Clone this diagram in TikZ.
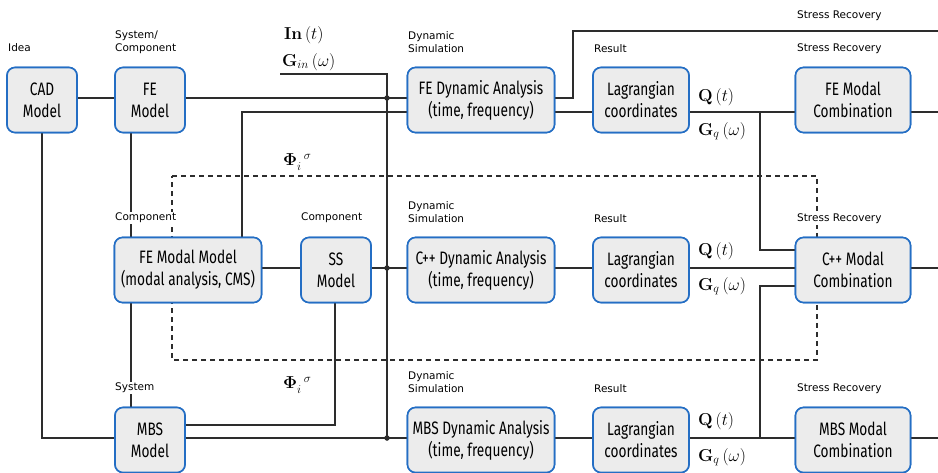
\documentclass[tikz,border=0pt]{standalone}
\usepackage[no-math]{fontspec}
\usetikzlibrary{calc}
\newfontfamily\boxfont[FakeStretch=0.76]{Fira Sans}
\newfontfamily\lblfont{DejaVu Sans}
\definecolor{boxblue}{RGB}{36,110,196}
\definecolor{boxgray}{RGB}{236,236,236}
\definecolor{linegray}{RGB}{45,45,45}
\begin{document}
\begin{tikzpicture}[x=1pt,y=-1pt,
  blk/.style={draw=boxblue, fill=boxgray, line width=1.6pt, rounded corners=8pt,
    align=center, inner sep=0pt, font={\boxfont\fontsize{18}{22}\selectfont}},
  sblk/.style={blk, minimum width=70pt, minimum height=65pt},
  wblk/.style={blk, minimum width=147pt, minimum height=65pt},
  lblk/.style={blk, minimum width=96pt, minimum height=65pt},
  cblk/.style={blk, minimum width=115pt, minimum height=65pt},
  lbl/.style={font={\lblfont\fontsize{10.5}{12.5}\selectfont}, align=left, inner sep=1pt},
  wlbl/.style={lbl, fill=white},
  mth/.style={font=\fontsize{16.5}{18}\selectfont, inner sep=0pt},
  conn/.style={draw=linegray, line width=1.2pt},
  dsh/.style={draw=linegray, line width=1.2pt, dash pattern=on 5pt off 4pt},
  jdot/.style={circle, fill=linegray, draw=linegray, inner sep=0pt, minimum size=5pt}
]
\useasboundingbox (0,0) rectangle (938,473);

% level coordinates
\coordinate (yA) at (0,98);
\coordinate (yB) at (0,112);
\coordinate (yT) at (0,31);
\coordinate (yG) at (0,74);
\coordinate (yM) at (0,268);
\coordinate (yMa) at (0,250);
\coordinate (yMb) at (0,286);
\coordinate (yL) at (0,438);
\coordinate (yLa) at (0,425);
\coordinate (xJ) at (387,0);
\coordinate (xV) at (760,0);
\coordinate (xR) at (573,0);
\coordinate (xE) at (938,0);
\coordinate (xF) at (242,0);
\coordinate (xD) at (131,0);
\coordinate (xC) at (42,0);
\coordinate (xS) at (335,0);
\coordinate (xG0) at (280,0);

% dashed frame
\coordinate (d1) at (172,176);
\coordinate (d2) at (817,176);
\coordinate (d3) at (817,360);
\coordinate (d4) at (172,360);
\draw[dsh] (d1) -- (d2) -- (d3) -- (d4) -- cycle;

% boxes (placed first so connectors can refer to them)
\node[sblk] (cad) at (42,100) {CAD\\Model};
\node[sblk] (fe) at (150,100) {FE\\Model};
\node[wblk] (fedyn) at (481,100) {FE Dynamic Analysis\\(time, frequency)};
\node[lblk] (lag1) at (641,100) {Lagrangian\\coordinates};
\node[cblk] (femc) at (853,100) {FE Modal\\Combination};

\node[wblk] (femm) at (188,270) {FE Modal Model\\(modal analysis, CMS)};
\node[sblk] (ss) at (336,270) {SS\\Model};
\node[wblk] (cdyn) at (481,270) {C++ Dynamic Analysis\\(time, frequency)};
\node[lblk] (lag2) at (641,270) {Lagrangian\\coordinates};
\node[cblk] (cmc) at (853,270) {C++ Modal\\Combination};

\node[sblk] (mbs) at (150,440) {MBS\\Model};
\node[wblk] (mdyn) at (481,440) {MBS Dynamic Analysis\\(time, frequency)};
\node[lblk] (lag3) at (641,440) {Lagrangian\\coordinates};
\node[cblk] (mmc) at (853,440) {MBS Modal\\Combination};

% connectors
\draw[conn] (cad.east |- yA) -- (fe.west |- yA);
\draw[conn] (fe.east |- yA) -- (fedyn.west |- yA);
\draw[conn] (xG0 |- yG) -- (xJ |- yG) -- (xJ |- yL);
\draw[conn] (fedyn.west |- yB) -- (xF |- yB) -- (xF |- femm.north);
\draw[conn] (xD |- fe.south) -- (xD |- femm.north);
\draw[conn] (xD |- femm.south) -- (xD |- mbs.north);
\draw[conn] (xC |- cad.south) -- (xC |- yL) -- (mbs.west |- yL);
\draw[conn] (femm.east |- yM) -- (ss.west |- yM);
\draw[conn] (ss.east |- yM) -- (cdyn.west |- yM);
\draw[conn] (xS |- ss.south) -- (xS |- yLa) -- (mbs.east |- yLa);
\draw[conn] (mbs.east |- yL) -- (mdyn.west |- yL);
\draw[conn] (fedyn.east |- yA) -- (xR |- yA) -- (xR |- yT) -- (xE |- yT);
\draw[conn] (fedyn.east |- yB) -- (lag1.west |- yB);
\draw[conn] (lag1.east |- yB) -- (femc.west |- yB);
\draw[conn] (xV |- yB) -- (xV |- yMa) -- (cmc.west |- yMa);
\draw[conn] (femc.east |- yB) -- (xE |- yB);
\draw[conn] (cdyn.east |- yM) -- (lag2.west |- yM);
\draw[conn] (lag2.east |- yM) -- (cmc.west |- yM);
\draw[conn] (cmc.west |- yMb) -- (xV |- yMb) -- (xV |- yL);
\draw[conn] (cmc.east |- yM) -- (xE |- yM);
\draw[conn] (mdyn.east |- yL) -- (lag3.west |- yL);
\draw[conn] (lag3.east |- yL) -- (mmc.west |- yL);
\draw[conn] (mmc.east |- yL) -- (xE |- yL);

% boxes drawn again on top of the connectors
\node[sblk] at (cad) {CAD\\Model};
\node[sblk] at (fe) {FE\\Model};
\node[wblk] at (fedyn) {FE Dynamic Analysis\\(time, frequency)};
\node[lblk] at (lag1) {Lagrangian\\coordinates};
\node[cblk] at (femc) {FE Modal\\Combination};
\node[wblk] at (femm) {FE Modal Model\\(modal analysis, CMS)};
\node[sblk] at (ss) {SS\\Model};
\node[wblk] at (cdyn) {C++ Dynamic Analysis\\(time, frequency)};
\node[lblk] at (lag2) {Lagrangian\\coordinates};
\node[cblk] at (cmc) {C++ Modal\\Combination};
\node[sblk] at (mbs) {MBS\\Model};
\node[wblk] at (mdyn) {MBS Dynamic Analysis\\(time, frequency)};
\node[lblk] at (lag3) {Lagrangian\\coordinates};
\node[cblk] at (mmc) {MBS Modal\\Combination};

% junction dots
\node[jdot] (j1) at (xJ |- yA) {};
\node[jdot] (j2) at (xJ |- yM) {};
\node[jdot] (j3) at (xJ |- yL) {};

% labels
\node[lbl, anchor=west] (l1) at (7,48) {Idea};
\node[lbl, anchor=west] (l2) at (114,42) {System/\\Component};
\node[lbl, anchor=west] (l3) at (407,42) {Dynamic\\Simulation};
\node[lbl, anchor=west] (l4) at (593,49) {Result};
\node[lbl, anchor=west] (l5) at (796,49) {Stress Recovery};
\node[lbl, anchor=west] (l6) at (796,16) {Stress Recovery};

\node[wlbl, anchor=west] (l7) at (114,218) {Component};
\node[lbl, anchor=west] (l8) at (300,218) {Component};
\node[lbl, anchor=west] (l9) at (407,212) {Dynamic\\Simulation};
\node[lbl, anchor=west] (l10) at (593,219) {Result};
\node[wlbl, anchor=west] (l11) at (796,219) {Stress Recovery};

\node[wlbl, anchor=west] (l12) at (114,388) {System};
\node[lbl, anchor=west] (l13) at (407,382) {Dynamic\\Simulation};
\node[lbl, anchor=west] (l14) at (593,389) {Result};
\node[lbl, anchor=west] (l15) at (796,389) {Stress Recovery};

% math labels
\node[mth, anchor=west] (m1) at (284,35) {$\mathbf{In}\,(t)$};
\node[mth, anchor=west] (m2) at (282,62) {$\mathbf{G}_{in}\,(\omega)$};
\node[mth, anchor=west] (m3) at (283,162) {$\mathbf{\Phi}_{i}^{\;\;\sigma}$};
\node[mth, anchor=west] (m4) at (283,385) {$\mathbf{\Phi}_{i}^{\;\;\sigma}$};
\node[mth, anchor=west] (q1) at (698,97) {$\mathbf{Q}\,(t)$};
\node[mth, anchor=west] (g1) at (698,131) {$\mathbf{G}_{q}\,(\omega)$};
\node[mth, anchor=west] (q2) at (698,251) {$\mathbf{Q}\,(t)$};
\node[mth, anchor=west] (g2) at (698,286) {$\mathbf{G}_{q}\,(\omega)$};
\node[mth, anchor=west] (q3) at (698,421) {$\mathbf{Q}\,(t)$};
\node[mth, anchor=west] (g3) at (698,457) {$\mathbf{G}_{q}\,(\omega)$};
\end{tikzpicture}
\end{document}
